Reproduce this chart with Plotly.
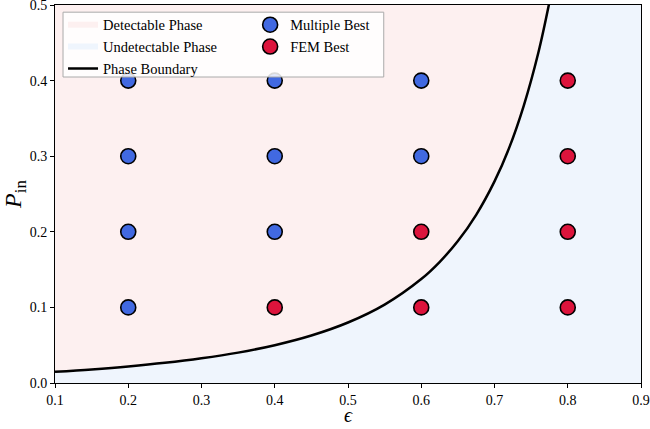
import plotly.graph_objects as go

# phase boundary
eps_boundary = [0.10, 0.15, 0.20, 0.25, 0.30, 0.35, 0.40, 0.45, 0.50, 0.55,
                0.60, 0.625, 0.65, 0.675, 0.70, 0.72, 0.74, 0.76, 0.775]
p_boundary = [0.0148, 0.018, 0.0219, 0.0267, 0.0327, 0.0402, 0.050, 0.0628, 0.080, 0.1037,
              0.1375, 0.160, 0.1878, 0.2225, 0.2667, 0.311, 0.367, 0.4375, 0.504]

# grid points
multi_eps = [0.2, 0.2, 0.2, 0.2, 0.4, 0.4, 0.4, 0.6, 0.6]
multi_p = [0.1, 0.2, 0.3, 0.4, 0.2, 0.3, 0.4, 0.3, 0.4]
fem_eps = [0.4, 0.6, 0.6, 0.8, 0.8, 0.8, 0.8]
fem_p = [0.1, 0.1, 0.2, 0.1, 0.2, 0.3, 0.4]

x_range = [0.1, 0.9]
y_range = [0.0, 0.5]

FONT = 'Liberation Serif'
fig = go.Figure()

# detectable region: above / left of the boundary
fig.add_trace(go.Scatter(
    x    = eps_boundary + [x_range[0]],
    y    = p_boundary + [y_range[1] + 0.1],
    mode = 'none',
    fill = 'toself',
    fillcolor = '#fdf0f0',
    name = 'Detectable Phase',
    legend = 'legend',
    hoverinfo = 'skip'
))

# undetectable region: below / right of the boundary
fig.add_trace(go.Scatter(
    x    = eps_boundary + [x_range[1], x_range[1], x_range[0]],
    y    = p_boundary + [y_range[1] + 0.1, y_range[0], y_range[0]],
    mode = 'none',
    fill = 'toself',
    fillcolor = '#eff5fd',
    name = 'Undetectable Phase',
    legend = 'legend',
    hoverinfo = 'skip'
))

fig.add_trace(go.Scatter(
    x    = eps_boundary,
    y    = p_boundary,
    mode = 'lines',
    line = dict(color='black', width=2.5, shape='spline'),
    name = 'Phase Boundary',
    legend = 'legend'
))

fig.add_trace(go.Scatter(
    x    = multi_eps,
    y    = multi_p,
    mode = 'markers',
    marker = dict(size=15, color='#4169e1', line=dict(color='black', width=1.6)),
    name = 'Multiple Best',
    legend = 'legend2'
))

fig.add_trace(go.Scatter(
    x    = fem_eps,
    y    = fem_p,
    mode = 'markers',
    marker = dict(size=15, color='#dc143c', line=dict(color='black', width=1.6)),
    name = 'FEM Best',
    legend = 'legend2'
))

# frame around both legend columns
fig.add_shape(
    type = 'rect', xref = 'paper', yref = 'paper',
    x0 = 0.0137, x1 = 0.561, y0 = 0.8095, y1 = 0.981,
    fillcolor = 'rgba(255,255,255,0.85)',
    line = dict(color='#aaaaaa', width=1),
    layer = 'above'
)

# x axis label, placed by hand so it clears the tick labels
fig.add_annotation(
    text = '<i>ϵ</i>', xref = 'paper', yref = 'paper',
    x = 0.5, y = -0.119, xanchor = 'center', yanchor = 'bottom',
    showarrow = False, font = dict(family=FONT, size=20, color='black')
)

legend_style = dict(
    bgcolor     = 'rgba(0,0,0,0)',
    borderwidth = 0,
    font        = dict(family=FONT, size=14.5, color='black'),
    xanchor     = 'left',
    yanchor     = 'top',
    tracegroupgap = 0,
    itemwidth   = 30
)

fig.update_layout(
    width         = 650,
    height        = 429,
    margin        = dict(l=55, r=9, t=5, b=46),
    plot_bgcolor  = 'white',
    paper_bgcolor = 'white',
    font          = dict(family=FONT, size=14, color='black'),
    legend        = dict(x=0.0137, y=0.99, **legend_style),
    legend2       = dict(x=0.333, y=0.99, **legend_style),
    showlegend    = True
)

fig.update_xaxes(
    range     = x_range,
    tickvals  = [0.1, 0.2, 0.3, 0.4, 0.5, 0.6, 0.7, 0.8, 0.9],
    ticktext  = ['0.1', '0.2', '0.3', '0.4', '0.5', '0.6', '0.7', '0.8', '0.9'],
    ticks     = 'outside',
    ticklen   = 4,
    tickcolor = 'black',
    showgrid  = False,
    zeroline  = False,
    showline  = True,
    mirror    = True,
    linecolor = 'black',
    linewidth = 1,
    automargin = False,
    ticklabeloverflow = 'allow',
    tickfont  = dict(family=FONT, size=14)
)
fig.update_yaxes(
    range     = y_range,
    tickvals  = [0.0, 0.1, 0.2, 0.3, 0.4, 0.5],
    ticktext  = ['0.0', '0.1', '0.2', '0.3', '0.4', '0.5'],
    ticks     = 'outside',
    ticklen   = 4,
    tickcolor = 'black',
    showgrid  = False,
    zeroline  = False,
    showline  = True,
    mirror    = True,
    linecolor = 'black',
    linewidth = 1,
    automargin = False,
    ticklabeloverflow = 'allow',
    tickfont  = dict(family=FONT, size=14),
    title     = dict(text='<i>P</i><sub>in</sub>', font=dict(family=FONT, size=24), standoff=4)
)

# drop the default body margin so the figure sits at the window origin
fig.write_html(
    "out.html",
    config      = {'displayModeBar': False},
    post_script = "document.body.style.margin = '0';"
)
